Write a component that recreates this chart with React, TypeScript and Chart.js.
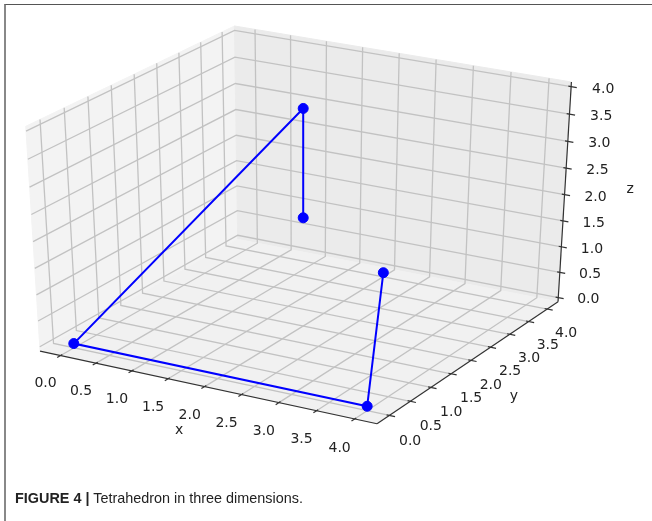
import React, { useEffect, useRef } from "react";
import { Chart, registerables } from "chart.js";

Chart.register(...registerables);

// ---- data (tetrahedron edges drawn as one polyline) ----
const pointX = [2, 2, 0, 4, 2];
const pointY = [2, 2, 0, 0, 4];
const pointZ = [2, 4, 0, 0, 0];

// ---- axes ----
const xTicks = [0, 0.5, 1, 1.5, 2, 2.5, 3, 3.5, 4];
const yTicks = [0, 0.5, 1, 1.5, 2, 2.5, 3, 3.5, 4];
const zTicks = [0, 0.5, 1, 1.5, 2, 2.5, 3, 3.5, 4];
const xTickLabels = ["0.0", "0.5", "1.0", "1.5", "2.0", "2.5", "3.0", "3.5", "4.0"];
const yTickLabels = ["0.0", "0.5", "1.0", "1.5", "2.0", "2.5", "3.0", "3.5", "4.0"];
const zTickLabels = ["0.0", "0.5", "1.0", "1.5", "2.0", "2.5", "3.0", "3.5", "4.0"];
const axisTitles = ["x", "y", "z"];
const xLimits = [-0.2, 4.2];
const yLimits = [-0.2, 4.2];
const zLimits = [0, 4];

// ---- view ----
const elevation = 30;
const azimuth = -60;
const viewDistance = 10;

// projected-space window shown by the canvas
const VIEW_X = [-0.0812, 0.09341];
const VIEW_Y = [-0.12315, 0.08846];

const W = 652;
const H = 521;

const limits = [xLimits, yLimits, zLimits];
const ticksAll = [xTicks, yTicks, zTicks];
const tickLabelsAll = [xTickLabels, yTickLabels, zTickLabels];

// label placement style per axis (pixel nudges of the text anchor)
const tickLabelNudge = [
  [1, 1],
  [-7, 2],
  [-10, 6],
];

const dot = (a: number[], b: number[]) => a[0] * b[0] + a[1] * b[1] + a[2] * b[2];

function makeView() {
  const el = (elevation * Math.PI) / 180;
  const az = (azimuth * Math.PI) / 180;
  const n = [Math.cos(az) * Math.cos(el), Math.sin(az) * Math.cos(el), Math.sin(el)];
  let u = [-n[1], n[0], 0];
  const um = Math.hypot(u[0], u[1], u[2]);
  u = u.map((c) => c / um);
  const v = [n[1] * u[2] - n[2] * u[1], n[2] * u[0] - n[0] * u[2], n[0] * u[1] - n[1] * u[0]];
  const project = (p: number[]) => {
    const q = p.map((c, i) => (c - limits[i][0]) / (limits[i][1] - limits[i][0]) - 0.5);
    const w = viewDistance - dot(n, q);
    return { x: dot(u, q) / w, y: dot(v, q) / w };
  };
  return { n, project };
}

const view = makeView();

const paneColors = ["#f3f3f3", "#ebebeb", "#f1f1f1"];
const tickDirs = [1, 0, 0];

const box3dPlugin = {
  id: "box3d",
  beforeDatasetsDraw(chart: any) {
    const ctx: CanvasRenderingContext2D = chart.ctx;
    const sx = chart.scales.x;
    const sy = chart.scales.y;
    const P = (p: number[]) => {
      const r = view.project(p);
      return [sx.getPixelForValue(r.x), sy.getPixelForValue(r.y)];
    };
    const deltas = limits.map((l) => (l[1] - l[0]) / 12);
    const lo = limits.map((l, i) => l[0] - deltas[i] / 4);
    const hi = limits.map((l, i) => l[1] + deltas[i] / 4);
    const centers = limits.map((l) => (l[0] + l[1]) / 2);
    const back = [0, 1, 2].map((i) => (view.n[i] > 0 ? lo[i] : hi[i]));
    const front = [0, 1, 2].map((i) => (view.n[i] > 0 ? hi[i] : lo[i]));

    const poly = (pts: number[][]) => {
      ctx.beginPath();
      pts.forEach((p, k) => {
        const [a, b] = P(p);
        if (k === 0) ctx.moveTo(a, b);
        else ctx.lineTo(a, b);
      });
    };

    ctx.save();
    // panes
    for (let i = 0; i < 3; i++) {
      const j = (i + 1) % 3;
      const k = (i + 2) % 3;
      const corners = [
        [lo[j], lo[k]],
        [hi[j], lo[k]],
        [hi[j], hi[k]],
        [lo[j], hi[k]],
      ].map(([a, b]) => {
        const p = [0, 0, 0];
        p[i] = back[i];
        p[j] = a;
        p[k] = b;
        return p;
      });
      poly(corners);
      ctx.closePath();
      ctx.fillStyle = paneColors[i];
      ctx.fill();
      ctx.strokeStyle = paneColors[i];
      ctx.lineWidth = 1;
      ctx.stroke();
    }

    // grid
    ctx.strokeStyle = "#c2c2c2";
    ctx.lineWidth = 1.3;
    for (let i = 0; i < 3; i++) {
      const j = (i + 1) % 3;
      const k = (i + 2) % 3;
      for (const t of ticksAll[i]) {
        const b = back.slice();
        b[i] = t;
        const a = b.slice();
        a[j] = front[j];
        const c = b.slice();
        c[k] = front[k];
        poly([a, b, c]);
        ctx.stroke();
      }
    }

    // axis lines, ticks, labels
    ctx.strokeStyle = "#333333";
    ctx.fillStyle = "#222222";
    ctx.font = '14px "DejaVu Sans"';
    ctx.textAlign = "center";
    ctx.textBaseline = "middle";
    const juggled = [
      [1, 0, 2],
      [0, 1, 2],
      [0, 2, 1],
    ];
    for (let i = 0; i < 3; i++) {
      const edge = back.slice();
      const jg = juggled[i][0];
      edge[jg] = front[jg];
      const e1 = edge.slice();
      e1[i] = lo[i];
      const e2 = edge.slice();
      e2[i] = hi[i];
      ctx.lineWidth = 1.2;
      poly([e1, e2]);
      ctx.stroke();

      const td = tickDirs[i];
      const outSign = edge[td] > centers[td] ? 1 : -1;
      ticksAll[i].forEach((t, idx) => {
        const p = edge.slice();
        p[i] = t;
        const t1 = p.slice();
        t1[td] = edge[td] + outSign * 0.2 * deltas[td];
        const t2 = p.slice();
        t2[td] = edge[td] - outSign * 0.1 * deltas[td];
        ctx.lineWidth = 1.2;
        poly([t1, t2]);
        ctx.stroke();
        const lp = p.slice();
        for (let m = 0; m < 3; m++) {
          if (m === i) continue;
          lp[m] += lp[m] < centers[m] ? -deltas[m] : deltas[m];
        }
        const [lx, ly] = P(lp);
        ctx.fillText(tickLabelsAll[i][idx], lx + tickLabelNudge[i][0], ly + tickLabelNudge[i][1]);
      });

      const mid = edge.slice();
      mid[i] = (lo[i] + hi[i]) / 2;
      for (let m = 0; m < 3; m++) {
        if (m === i) continue;
        mid[m] += mid[m] < centers[m] ? -1.6 * deltas[m] : 1.6 * deltas[m];
      }
      const [mx, my] = P(mid);
      ctx.fillText(axisTitles[i], mx, my);
    }
    ctx.restore();
  },
};

export default function App() {
  const ref = useRef<HTMLCanvasElement>(null);
  useEffect(() => {
    if (!ref.current) return;
    const pts = pointX.map((x, i) => view.project([x, pointY[i], pointZ[i]]));
    const chart = new Chart(ref.current, {
      type: "scatter",
      data: {
        datasets: [
          {
            data: pts,
            showLine: true,
            borderColor: "#0000ff",
            backgroundColor: "#0000ff",
            borderWidth: 2,
            pointRadius: 5,
            pointHoverRadius: 5,
            pointBorderWidth: 1,
            pointBorderColor: "#0000ff",
            pointBackgroundColor: "#0000ff",
          },
        ],
      },
      options: {
        animation: false,
        responsive: false,
        devicePixelRatio: 1,
        events: [],
        layout: { padding: 0, autoPadding: false },
        plugins: { legend: { display: false }, tooltip: { enabled: false } },
        scales: {
          x: { type: "linear", display: false, min: VIEW_X[0], max: VIEW_X[1] },
          y: { type: "linear", display: false, min: VIEW_Y[0], max: VIEW_Y[1] },
        },
      },
      plugins: [box3dPlugin],
    } as any);
    return () => chart.destroy();
  }, []);

  return (
    <div style={{ position: "fixed", left: 0, top: 0, width: W, height: H, background: "#fff", overflow: "hidden" }}>
      <canvas ref={ref} width={W} height={H} style={{ position: "absolute", left: 0, top: 0, width: W, height: H }} />
      <div
        style={{
          position: "absolute",
          left: 4,
          top: 4,
          width: W - 4,
          height: H - 4,
          borderTop: "1.5px solid #555",
          borderLeft: "2px solid #888",
          boxSizing: "border-box",
        }}
      />
      <div
        style={{
          position: "absolute",
          left: 15,
          top: 490,
          fontFamily: '"Liberation Sans", Arial, sans-serif',
          fontSize: 15,
          lineHeight: "15px",
          color: "#222",
          whiteSpace: "nowrap",
          transform: "scaleX(0.96)",
          transformOrigin: "left top",
        }}
      >
        <b>FIGURE 4 |</b> Tetrahedron in three dimensions.
      </div>
    </div>
  );
}
